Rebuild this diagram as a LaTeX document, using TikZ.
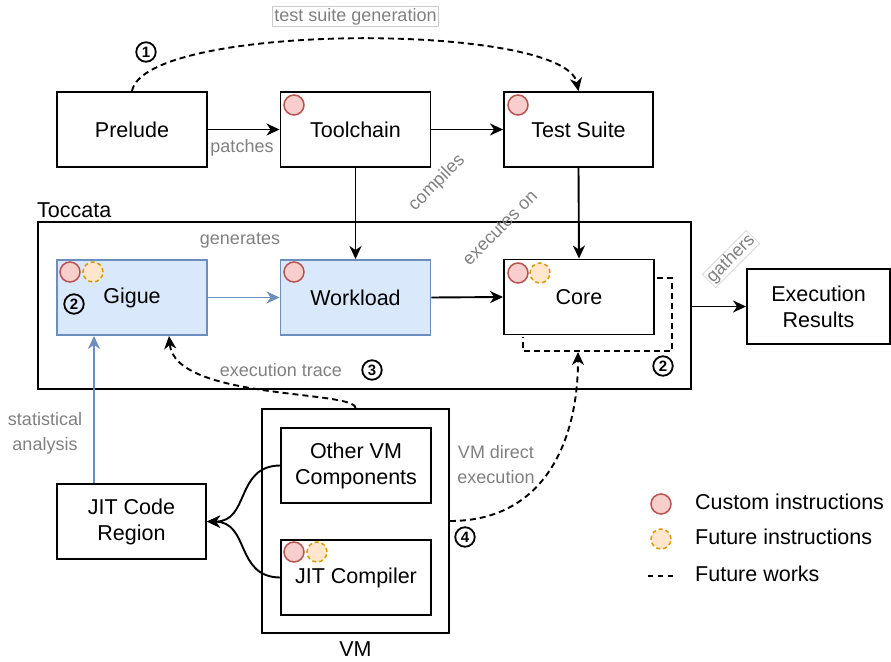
\documentclass[tikz,border=0pt]{standalone}
\usepackage{fontspec}
\setmainfont{Liberation Sans}
\usetikzlibrary{arrows.meta}
\definecolor{lblgray}{RGB}{128,128,128}
\definecolor{cusfill}{HTML}{F8CECC}
\definecolor{cusdraw}{HTML}{B85450}
\definecolor{futfill}{HTML}{FFE6CC}
\definecolor{futdraw}{HTML}{D79B00}
\definecolor{bluefill}{HTML}{DAE8FC}
\definecolor{bluedraw}{HTML}{6C8EBF}
\begin{document}
\begin{tikzpicture}[x=1pt,y=-1pt,
  every node/.style={font=\fontsize{21.5}{26}\selectfont},
  box/.style={draw, line width=1.9pt, rectangle, minimum width=#1, minimum height=75pt, inner sep=0pt, align=center},
  box/.default=150pt,
  bluebox/.style={box, draw=bluedraw, fill=bluefill},
  container/.style={draw, line width=1.9pt, rectangle, inner sep=0pt},
  lbl/.style={text=lblgray, font=\fontsize{18}{25}\selectfont, align=center, inner sep=1pt},
  conn/.style={line width=1.9pt, -{Stealth[length=13pt,width=12pt,inset=4pt]}},
  fut/.style={conn, dash pattern=on 6pt off 4pt},
  bconn/.style={conn, draw=bluedraw, -{Stealth[length=13pt,width=12pt,inset=4pt,fill=bluedraw]}},
  cusi/.style={circle, draw=cusdraw, fill=cusfill, line width=1.5pt, minimum size=20pt, inner sep=0pt},
  futi/.style={circle, draw=futdraw, fill=futfill, line width=1.5pt, dash pattern=on 4pt off 3pt, minimum size=20pt, inner sep=0pt},
  num/.style={circle, draw, line width=1.8pt, minimum size=19.5pt, inner sep=0pt, font=\fontsize{15}{15}\selectfont\bfseries}
]
\useasboundingbox (0,0) rectangle (891,661);

% containers
\node[container, minimum width=653pt, minimum height=167pt] (toccata) at (364.5,305.5) {};
\node[anchor=west, inner sep=0pt] (toccatalbl) at (37,210) {Toccata};
\node[container, minimum width=187pt, minimum height=224pt] (vm) at (355.5,521) {};
\node[inner sep=0pt] (vmlbl) at (355.5,649) {VM};

% boxes
\node[box] (prelude) at (132,129.5) {Prelude};
\node[box] (toolchain) at (355.5,129.5) {Toolchain};
\node[box=149pt] (testsuite) at (578.5,129.5) {Test Suite};
\node[bluebox] (gigue) at (132,297.5) {Gigue};
\node[bluebox=149pt] (workload) at (355.5,297.5) {Workload};
\node[box] (core) at (579,297) {Core};
\node[box=143pt] (results) at (818.5,306.5) {Execution\\Results};
\node[box] (other) at (356,465.5) {Other VM\\Components};
\node[box] (jitc) at (356,577.5) {JIT Compiler};
\node[box=149pt] (jitcode) at (131.5,521.5) {JIT Code\\Region};

% instruction icons
\node[cusi] (i1) at (294,105) {};
\node[cusi] (i2) at (518,105) {};
\node[cusi] (i3) at (70,272) {};
\node[futi] (i4) at (93,272) {};
\node[cusi] (i5) at (294,272) {};
\node[cusi] (i6) at (518,273) {};
\node[futi] (i7) at (540,273) {};
\node[cusi] (i8) at (294,552) {};
\node[futi] (i9) at (317,552) {};

% solid connectors
\draw[conn] (prelude.east) -- (toolchain.west);
\draw[conn] (toolchain.east) -- (testsuite.west);
\draw[conn] (toolchain.south) -- (workload.north);
\draw[conn] (testsuite.south) -- (core.north);
\draw[bconn] (gigue.east) -- (workload.west);
\draw[conn] (workload.east) -- (core.west);
\draw[conn] (toccata.east |- results.west) -- (results.west);
\coordinate (sa) at (94,0);
\draw[bconn] (jitcode.north -| sa) -- (gigue.south -| sa);
\draw[conn] (other.west) .. controls (235,466) and (250,522) .. (jitcode.east);
\draw[conn] (jitc.west) .. controls (235,577) and (250,522) .. (jitcode.east);

% dashed (future work) connectors
\draw[fut] (prelude.north) .. controls (145,22) and (565,22) .. (testsuite.north);
\draw[line width=1.9pt, dash pattern=on 6pt off 4pt] (657,278) -- (672,278) -- (672,351) -- (523,351) -- (523,337);
\coordinate (loopb) at (578,352);
\draw[fut] (vm.east) .. controls (545,521) and (578,440) .. (loopb);
\coordinate (tr) at (169,0);
\draw[fut] (vm.north) .. controls (355,390) and (175,400) .. (gigue.south -| tr);

% labels
\node[lbl, draw=black!20, line width=0.8pt, inner sep=2pt] (l1) at (355.5,16.5) {test suite generation};
\node[lbl] (l2) at (242,148) {patches};
\node[lbl, rotate=45] (l3) at (437,183) {compiles};
\node[lbl, rotate=45] (l4) at (500,228) {executes on};
\node[lbl, rotate=45, draw=black!15, line width=0.8pt] (l5) at (731,259) {gathers};
\node[lbl] (l6) at (240,241) {generates};
\node[lbl] (l7) at (281,370) {execution trace};
\node[lbl] (l8) at (45,433.5) {statistical\\analysis};
\node[lbl] (l9) at (496,464.5) {VM direct\\execution};

% step numbers
\node[num] (n1) at (146,52) {1};
\node[num] (n2a) at (74,304) {2};
\node[num] (n2b) at (663,366) {2};
\node[num] (n3) at (372,370) {3};
\node[num] (n4) at (465,537) {4};

% legend
\node[cusi] (lg1) at (661,504) {};
\node[anchor=west, inner sep=0pt] (lt1) at (695,502) {Custom instructions};
\node[futi] (lg2) at (661,539) {};
\node[anchor=west, inner sep=0pt] (lt2) at (695,537) {Future instructions};
\coordinate (lg3a) at (648,576);
\coordinate (lg3b) at (676,576);
\draw[line width=1.5pt, dash pattern=on 5pt off 5pt] (lg3a) -- (lg3b);
\node[anchor=west, inner sep=0pt] (lt3) at (695,574) {Future works};
\end{tikzpicture}
\end{document}
